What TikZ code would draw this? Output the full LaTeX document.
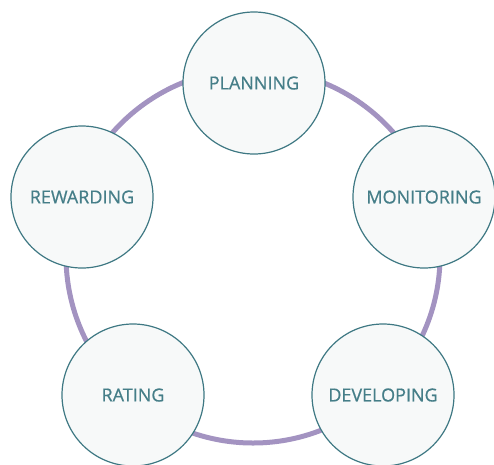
\documentclass[tikz,border=0pt]{standalone}
\usepackage{fontspec}
\setmainfont[FakeBold=0.6]{Open Sans}
\usepackage{xcolor}
\definecolor{ringcol}{HTML}{A393C1}
\definecolor{edgecol}{HTML}{3E7883}
\definecolor{textcol}{HTML}{457E88}
\definecolor{fillcol}{HTML}{F7F9F9}

\begin{document}
\begin{tikzpicture}%
  [x=1pt,y=-1pt]
  \tikzstyle{stage node}=[circle,draw=edgecol,line width=1.2pt,fill=fillcol,
    minimum size=142pt,inner sep=0,text=textcol,font=\fontsize{18}{20}\selectfont]
  \tikzstyle{ring}=[draw=ringcol,line width=5pt]
  \useasboundingbox (0,0) rectangle (494,464);
  \clip (0,0) rectangle (494,464);
  \path[ring] (253,256) circle (187pt);
  \node(plan)[stage node] at (254,83){PLANNING};
  \node(monitor)[stage node] at (424,197){MONITORING};
  \node(develop)[stage node] at (383,395){DEVELOPING};
  \node(rate)[stage node] at (133,395){RATING};
  \node(reward)[stage node] at (82,197){REWARDING};
\end{tikzpicture}
\end{document}
